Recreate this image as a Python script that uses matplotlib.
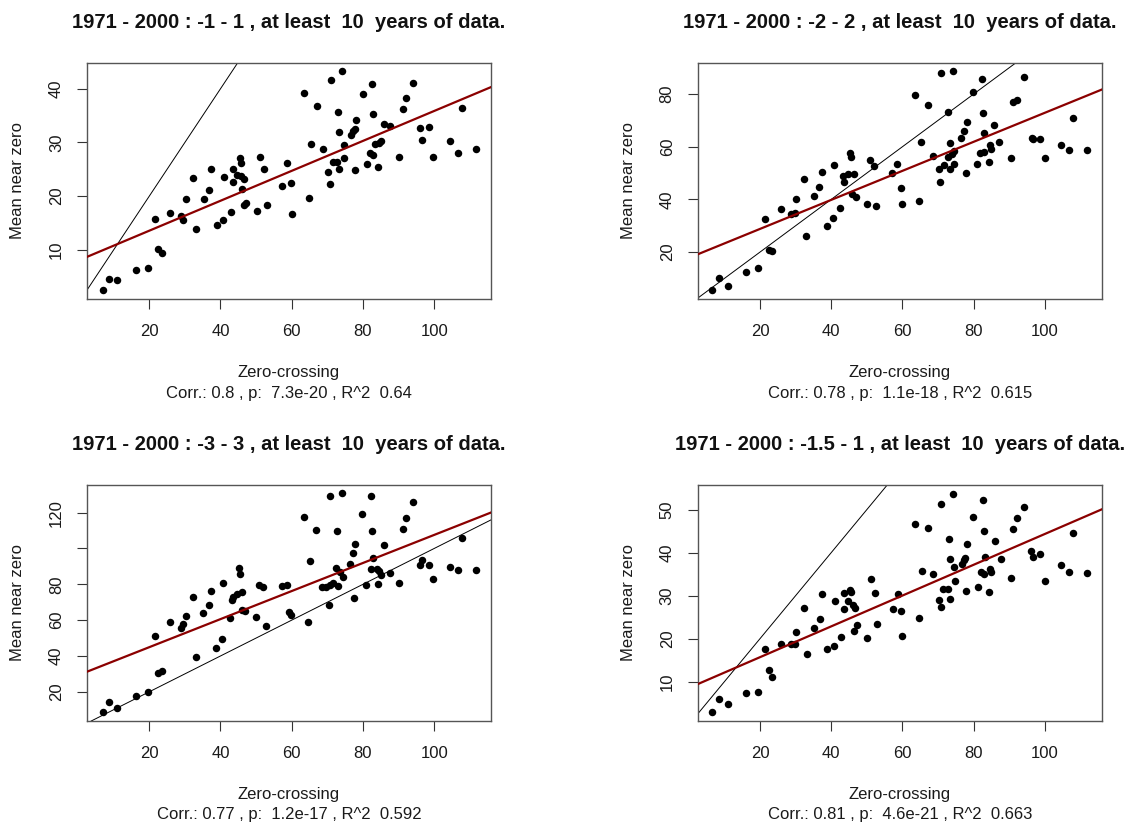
import matplotlib
matplotlib.use("Agg")
import matplotlib.pyplot as plt
import numpy as np

plt.rcParams['font.family'] = ['Liberation Sans', 'DejaVu Sans']

# ---------------- data ----------------
x1 = [6.87, 8.59, 10.91, 16.36, 19.6, 21.72, 22.53, 23.54, 25.86, 28.89, 29.6, 30.3, 32.32, 33.23,
      35.35, 36.87, 37.47, 38.89, 40.71, 41.01, 42.83, 43.64, 43.64, 44.75, 45.45, 45.76, 45.76,
      46.06, 46.46, 46.46, 47.27, 50.2, 51.01, 52.22, 52.93, 57.37, 58.79, 59.8, 60.0, 63.54, 64.75,
      65.35, 67.17, 68.69, 70.3, 70.61, 71.01, 71.62, 72.83, 73.03, 73.33, 73.33, 74.24, 74.55,
      74.55, 76.67, 77.27, 77.78, 77.78, 78.18, 80.0, 81.11, 81.92, 82.63, 82.83, 82.83, 83.33,
      84.34, 84.55, 85.15, 85.86, 87.68, 90.2, 91.21, 92.12, 94.14, 96.16, 96.57, 98.59, 99.8,
      104.55, 106.67, 107.88, 111.62]
y1 = [2.56, 4.55, 4.3, 6.28, 6.65, 15.7, 10.19, 9.38, 16.88, 16.32, 15.52, 19.42, 23.39, 13.9,
      19.42, 21.16, 25.12, 14.71, 15.64, 23.57, 17.07, 22.58, 25.12, 24.01, 27.11, 26.11, 23.76,
      21.28, 23.14, 18.31, 18.8, 17.25, 27.23, 25.12, 18.43, 21.96, 26.11, 22.4, 16.63, 39.26, 19.61,
      29.65, 36.71, 28.84, 24.5, 22.21, 41.61, 26.3, 26.3, 35.72, 32.0, 25.12, 43.22, 29.46,
      27.11, 31.38, 32.19, 32.44, 24.94, 34.17, 38.94, 25.93, 27.97, 40.87, 35.35, 27.66, 29.65,
      25.37, 29.96, 30.27, 33.37, 33.0, 27.29, 36.22, 38.33, 41.05, 32.62, 30.45, 32.81, 27.29,
      30.27, 28.1, 36.34, 28.72]

x2 = [6.63, 8.46, 10.89, 16.15, 19.49, 21.52, 22.53, 23.34, 25.77, 28.81, 29.72, 30.23, 32.3, 33.05,
      35.2, 36.7, 37.3, 38.8, 40.5, 40.8, 42.6, 43.5, 43.35, 44.75, 46.4, 45.2, 45.5, 45.9, 47.1,
      50.1, 50.8, 52.1, 52.7, 57.1, 58.6, 59.6, 59.9, 63.5, 64.6, 65.2, 67.1, 68.5, 70.4, 70.5,
      70.9, 71.7, 72.9, 73.4, 72.7, 73.8, 74.5, 73.3, 74.5, 74.2, 76.5, 77.4, 78.1, 77.8, 79.8,
      81.0, 81.8, 82.4, 82.7, 82.8, 83.0, 84.2, 84.6, 84.9, 85.7, 87.2, 90.38, 91.19, 92.21, 94.23,
      96.25, 96.66, 98.68, 99.9, 104.66, 106.79, 107.9, 111.85]
y2 = [5.6, 10.02, 7.24, 12.42, 14.06, 32.5, 20.88, 20.38, 36.42, 34.52, 34.9, 40.08, 47.7, 26.1,
      41.3, 44.6, 50.5, 30.0, 32.9, 52.9, 36.9, 46.5, 48.9, 49.6, 49.7, 57.5, 56.0, 41.9, 40.9,
      38.1, 54.9, 52.6, 37.6, 50.1, 53.4, 44.2, 38.1, 79.7, 39.4, 61.8, 75.8, 56.5, 51.6, 46.5,
      87.9, 52.9, 73.3, 61.6, 56.2, 57.1, 58.5, 51.4, 53.3, 88.6, 63.3, 66.1, 69.3, 50.1, 80.7,
      53.3, 57.7, 85.7, 72.9, 58.1, 65.1, 54.2, 60.5, 59.0, 68.1, 61.8, 55.74, 76.96, 77.72, 86.31,
      63.45, 63.07, 62.94, 55.74, 60.54, 58.65, 71.03, 58.65]

x3 = [6.87, 8.59, 10.91, 16.36, 19.6, 21.72, 22.53, 23.54, 25.86, 28.89, 29.6, 30.3, 32.32, 33.23,
      35.16, 36.76, 37.3, 38.6, 40.5, 40.8, 42.6, 43.3, 43.6, 45.2, 45.5, 44.7, 46.1, 45.9, 46.9,
      50.1, 50.9, 52.0, 52.8, 57.2, 58.6, 59.3, 59.8, 63.4, 64.6, 65.1, 66.9, 68.4, 69.6, 70.7,
      70.5, 70.8, 71.5, 72.8, 72.5, 73.6, 74.3, 73.1, 74.1, 76.4, 77.5, 77.3, 77.9, 79.8, 80.9,
      82.3, 82.6, 82.9, 82.2, 83.9, 84.5, 84.1, 85.15, 85.86, 87.68, 90.2, 91.21, 92.12, 94.14,
      96.16, 96.57, 98.59, 99.8, 104.55, 106.67, 107.88, 111.62]
y3 = [8.89, 14.26, 10.74, 17.78, 20.0, 51.3, 30.56, 31.67, 58.89, 55.37, 57.97, 62.41, 73.15, 39.45,
      64.2, 68.3, 76.1, 44.6, 49.3, 80.7, 61.2, 71.2, 72.7, 88.9, 85.9, 74.8, 75.5, 65.7, 64.9,
      61.9, 79.6, 78.3, 56.6, 79.1, 79.5, 64.4, 62.9, 117.4, 58.8, 93.2, 110.1, 78.3, 78.7, 79.5,
      68.3, 129.5, 80.9, 109.6, 89.3, 86.7, 83.9, 78.9, 130.8, 91.3, 72.4, 97.6, 102.7, 119.1, 79.5,
      129.1, 109.6, 94.9, 88.4, 88.4, 87.3, 80.0, 85.4, 101.7, 86.5, 80.6, 111.1, 117.2, 125.9,
      90.6, 93.5, 90.6, 83.0, 89.5, 87.8, 105.9, 87.8]

x4 = [6.63, 8.46, 10.89, 16.15, 19.49, 21.52, 22.53, 23.34, 25.77, 28.81, 29.72, 30.23, 32.35, 33.27,
      35.29, 36.81, 37.32, 38.84, 40.66, 40.96, 42.68, 43.6, 43.6, 44.81, 45.42, 45.62, 46.03, 46.63,
      46.33, 47.14, 50.18, 51.09, 52.3, 52.81, 57.27, 58.79, 59.7, 60.0, 63.65, 64.76, 65.37, 67.09,
      68.61, 70.33, 70.74, 70.94, 71.34, 72.66, 73.07, 73.27, 73.37, 74.28, 74.58, 74.69, 76.61,
      77.22, 77.62, 77.93, 78.23, 79.95, 81.17, 81.98, 82.58, 82.79, 82.99, 83.29, 84.41, 84.71,
      85.01, 85.93, 87.65, 90.38, 91.19, 92.21, 94.23, 96.15, 96.56, 98.68, 99.9, 104.66, 106.79,
      107.9, 111.85]
y4 = [2.88, 5.9, 4.82, 7.29, 7.52, 17.66, 12.71, 11.16, 18.67, 18.67, 18.67, 21.53, 27.25, 16.42,
      22.53, 24.47, 30.35, 17.66, 18.36, 28.88, 20.37, 26.79, 30.66, 28.65, 31.43, 30.97, 27.95, 27.18,
      21.76, 23.08, 20.06, 33.83, 30.66, 23.31, 26.79, 30.35, 26.48, 20.6, 46.6, 24.7, 35.76, 45.67,
      35.07, 28.96, 27.41, 51.32, 31.66, 31.51, 43.11, 38.47, 29.34, 53.71, 36.69, 33.37, 37.39,
      38.24, 38.78, 31.12, 41.95, 48.3, 32.05, 35.61, 52.24, 45.13, 34.99, 39.01, 30.89, 36.31,
      35.61, 42.65, 38.47, 34.06, 45.59, 48.07, 50.54, 40.48, 39.01, 39.71, 33.52, 37.23, 35.61,
      44.66, 35.38]

titles = ["1971 - 2000 : -1 - 1 , at least  10  years of data.",
          "1971 - 2000 : -2 - 2 , at least  10  years of data.",
          "1971 - 2000 : -3 - 3 , at least  10  years of data.",
          "1971 - 2000 : -1.5 - 1 , at least  10  years of data."]
subtitles = ["Corr.: 0.8 , p:  7.3e-20 , R^2  0.64",
             "Corr.: 0.78 , p:  1.1e-18 , R^2  0.615",
             "Corr.: 0.77 , p:  1.2e-17 , R^2  0.592",
             "Corr.: 0.81 , p:  4.6e-21 , R^2  0.663"]
x_ticks = [20, 40, 60, 80, 100]
y_ticks = [[10, 20, 30, 40], [20, 40, 60, 80], [20, 40, 60, 80, 100, 120], [10, 20, 30, 40, 50]]
y_ticklabels = [["10", "20", "30", "40"], ["20", "40", "60", "80"],
                ["20", "40", "60", "80", "", "120"], ["10", "20", "30", "40", "50"]]
xlabel = "Zero-crossing"
ylabel = "Mean near zero"

xs = [x1, x2, x3, x4]
ys = [y1, y2, y3, y4]
ylims = [(0.85, 44.85), (2.2, 91.9), (3.7, 135.6), (0.87, 55.8)]
xlim = (2.6, 115.9)

# ---------------- layout ----------------
W, H = 1128, 823
fig = plt.figure(figsize=(W / 100, H / 100), dpi=100)
fig.patch.set_facecolor('white')

box_lefts = [87.3, 698.0, 87.3, 698.0]
box_tops = [62.7, 62.7, 484.7, 484.7]
bw, bh = 403.5, 236.3

for i in range(4):
    l, t = box_lefts[i], box_tops[i]
    ax = fig.add_axes([l / W, 1 - (t + bh) / H, bw / W, bh / H])
    x = np.array(xs[i]); y = np.array(ys[i])
    ax.plot(x, y, 'o', color='black', markersize=5.4, markeredgewidth=0, zorder=3)
    ax.axline((0, 0), slope=1, color='black', linewidth=0.7, zorder=2)
    b, a = np.polyfit(x, y, 1)
    ax.axline((0, a), slope=b, color='#8B0000', linewidth=1.6, zorder=4)
    ax.set_xlim(*xlim)
    ax.set_ylim(*ylims[i])
    ax.set_xticks(x_ticks)
    ax.set_xticklabels([str(v) for v in x_ticks])
    ax.set_yticks(y_ticks[i])
    ax.set_yticklabels(y_ticklabels[i], rotation=90, va='center')
    ax.tick_params(axis='both', direction='out', length=7.3, width=0.8, color='#333333',
                   labelsize=12, labelcolor='#1a1a1a')
    ax.tick_params(axis='x', pad=10.5)
    ax.tick_params(axis='y', pad=9.5)
    for sp in ax.spines.values():
        sp.set_color('#555555')
        sp.set_linewidth(1.0)
    cx = (l + bw / 2) / W
    fig.text(cx, 1 - (t - 40.5) / H, titles[i], ha='center', va='center',
             fontsize=14.5, fontweight='bold', color='#111111')
    fig.text(cx, 1 - (t + bh + 73) / H, xlabel, ha='center', va='center', fontsize=12,
             color='#1a1a1a')
    fig.text(cx, 1 - (t + bh + 94) / H, subtitles[i], ha='center', va='center', fontsize=12,
             color='#1a1a1a')
    fig.text((l - 69.5) / W, 1 - (t + bh / 2) / H, ylabel, ha='center', va='center',
             rotation=90, fontsize=12, color='#1a1a1a')

fig.savefig('out.png', dpi=100, facecolor='white')
